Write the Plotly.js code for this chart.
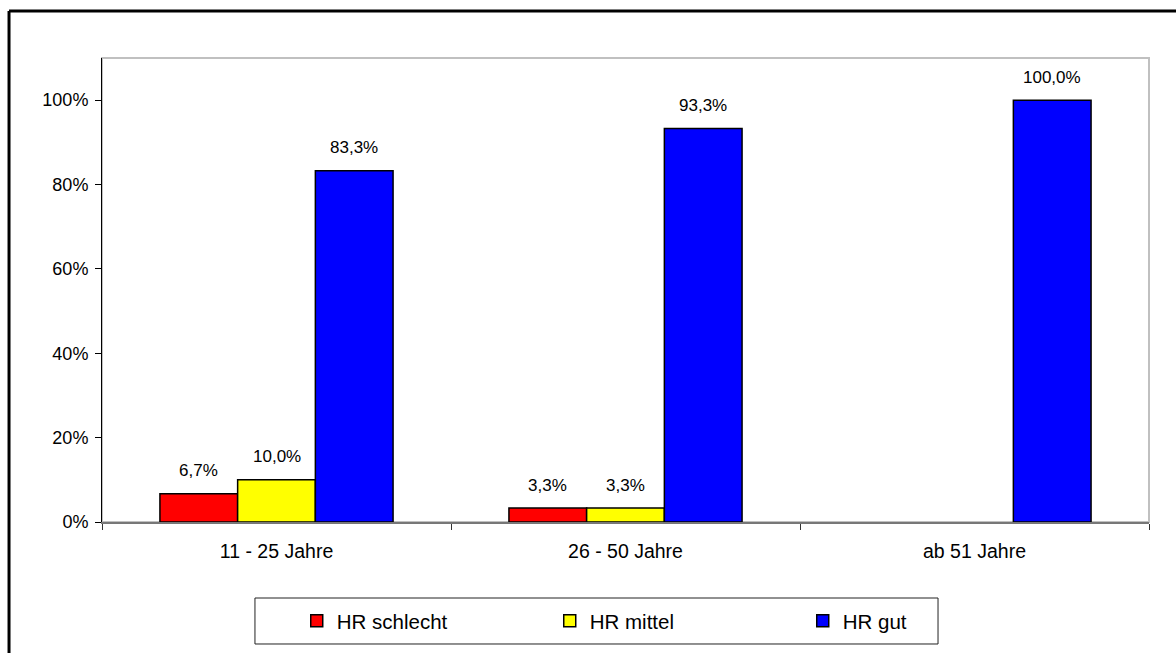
<!DOCTYPE html>
<html>
<head>
<meta charset="utf-8">
<script src="https://cdn.plot.ly/plotly-3.0.1.min.js"></script>
<style>
html,body{margin:0;padding:0;background:#fff;}
#chart{width:1176px;height:653px;}
</style>
</head>
<body>
<div id="chart"></div>
<script>
const categories = ['11 - 25 Jahre', '26 - 50 Jahre', 'ab 51 Jahre'];
const seriesNames = ['HR schlecht', 'HR mittel', 'HR gut'];
const hrSchlecht = [6.7, 3.3, null];
const hrMittel = [10.0, 3.3, null];
const hrGut = [83.3, 93.3, 100.0];
const seriesColors = ['#ff0000', '#ffff00', '#0000ff'];
const yTickVals = [0, 20, 40, 60, 80, 100];
const yTickText = yTickVals.map(v => v + '%');

const seriesValues = [hrSchlecht, hrMittel, hrGut];
const FONT = 'Arial, "Liberation Sans", sans-serif';
const BARGAP = 0.332;
const barW = (1 - BARGAP) / seriesValues.length;

const traces = seriesValues.map((vals, i) => ({
  type: 'bar',
  name: seriesNames[i],
  x: categories,
  y: vals,
  marker: {color: seriesColors[i], line: {color: '#000000', width: 1.5}},
  hoverinfo: 'x+y+name'
}));

// data labels as annotations above each bar (same numbers as the series)
const annotations = [];
seriesValues.forEach((vals, i) => {
  vals.forEach((v, c) => {
    if (v === null || v === undefined) return;
    annotations.push({
      xref: 'x', yref: 'y',
      x: c + (i - (seriesValues.length - 1) / 2) * barW,
      y: v,
      text: v.toFixed(1).replace('.', ',') + '%',
      showarrow: false,
      yanchor: 'middle', xanchor: 'center',
      yshift: 23,
      font: {family: FONT, size: 17, color: '#000'}
    });
  });
});

const layout = {
  width: 1176, height: 653,
  margin: {l: 102, r: 27, t: 58, b: 131},
  paper_bgcolor: '#ffffff', plot_bgcolor: '#ffffff',
  separators: ',.',
  barmode: 'group', bargap: BARGAP, bargroupgap: 0,
  font: {family: FONT, color: '#000'},
  xaxis: {
    type: 'category',
    tickson: 'boundaries',
    ticks: 'outside', ticklen: 6, tickcolor: '#333', tickwidth: 1,
    showline: true, linecolor: '#777', linewidth: 2,
    showgrid: false, zeroline: false,
    tickfont: {family: FONT, size: 19.5, color: '#000'},
    ticklabelstandoff: 11
  },
  yaxis: {
    range: [0, 110],
    tickmode: 'array',
    tickvals: yTickVals,
    ticktext: yTickText,
    ticks: 'outside', ticklen: 6, tickcolor: '#000', tickwidth: 1,
    showline: true, linecolor: '#000', linewidth: 1,
    showgrid: false, zeroline: false,
    tickfont: {family: FONT, size: 18, color: '#000'},
    ticklabelstandoff: 3
  },
  annotations: annotations,
  showlegend: true,
  legend: {
    orientation: 'h',
    x: 0.186, xanchor: 'left',
    y: -0.2134, yanchor: 'middle',
    entrywidth: 208, entrywidthmode: 'pixels',
    bgcolor: 'rgba(0,0,0,0)', borderwidth: 0,
    font: {family: FONT, size: 20.5, color: '#000'},
    traceorder: 'normal'
  },
  shapes: [
    {type: 'rect', xref: 'paper', yref: 'paper', x0: 0, x1: 1, y0: 0, y1: 1,
     line: {color: '#c0c0c0', width: 2}, layer: 'below'},
    {type: 'rect', xref: 'paper', yref: 'paper', x0: 0.1461, x1: 0.7985, y0: -0.2629, y1: -0.1638,
     line: {color: '#222', width: 1}, layer: 'below'},
    {type: 'line', xref: 'paper', yref: 'paper', x0: -0.0888, x1: 1.03, y0: 1.1013, y1: 1.1013,
     line: {color: '#000', width: 3}},
    {type: 'line', xref: 'paper', yref: 'paper', x0: -0.0888, x1: -0.0888, y0: 1.1013, y1: -0.3,
     line: {color: '#000', width: 3}}
  ]
};

Plotly.newPlot('chart', traces, layout, {displayModeBar: false, staticPlot: true});
</script>
</body>
</html>
